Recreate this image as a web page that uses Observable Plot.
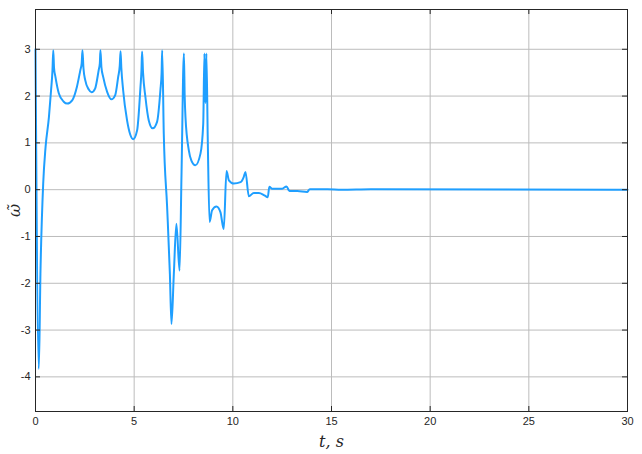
<!DOCTYPE html>
<html><head><meta charset="utf-8">
<script src="https://cdn.jsdelivr.net/npm/d3@7"></script>
<script src="https://cdn.jsdelivr.net/npm/@observablehq/plot@0.6"></script>
<style>
body{margin:0;background:#fff}
g[aria-label="y-axis label"] text, g[aria-label="x-axis label"] text{font-family:"DejaVu Serif",serif;font-style:italic;font-size:16px;fill:#262626}
</style>
</head><body><div id="chart"></div>
<script>
const t = [0,0.17,0.25,0.39,0.51,0.68,0.79,0.86,0.9,0.94,1.01,1.18,1.43,1.61,1.86,2.1,2.27,2.34,2.38,2.43,2.52,2.7,2.84,3.02,3.2,3.26,3.29,3.34,3.43,3.63,3.85,4.04,4.19,4.27,4.31,4.35,4.44,4.64,4.8,4.95,5.15,5.32,5.37,5.4,5.45,5.57,5.74,5.94,6.16,6.33,6.39,6.42,6.5,6.67,6.81,6.89,7.01,7.14,7.3,7.4,7.52,7.56,7.6,7.77,7.9,8.1,8.36,8.5,8.56,8.61,8.66,8.73,8.82,8.95,9.17,9.37,9.54,9.68,9.8,10.05,10.39,10.55,10.64,10.81,11.06,11.32,11.6,11.77,11.85,11.99,12.5,12.72,12.87,13.26,13.76,13.9,14.8,15.5,17,30];
const omega = [3.0,-3.83,-1.8,0.13,0.91,1.55,2.13,2.55,2.98,2.6,2.41,2.06,1.88,1.84,1.91,2.2,2.55,2.7,2.98,2.6,2.34,2.14,2.08,2.16,2.55,2.7,2.98,2.62,2.41,2.09,1.93,2.02,2.41,2.65,2.96,2.6,2.13,1.48,1.18,1.08,1.27,2.2,2.55,2.95,2.5,1.98,1.48,1.31,1.45,2.13,2.5,2.98,1.2,-0.37,-1.8,-2.87,-1.8,-0.73,-1.73,0.34,2.91,2.0,1.55,0.84,0.62,0.52,0.77,1.41,2.91,1.85,2.91,1.06,-0.69,-0.44,-0.36,-0.48,-0.84,0.40,0.2,0.13,0.16,0.27,0.38,-0.14,-0.07,-0.07,-0.12,-0.16,0.06,0.02,0.02,0.07,-0.03,-0.03,-0.05,0.01,0.01,0.0,0.01,0];
const xTicks = [0,5,10,15,20,25,30];
const yTicks = [-4,-3,-2,-1,0,1,2,3];
const data = t.map((d,i)=>({t:d, w:omega[i]}));
const W = 642, H = 454, ml = 35, mr = 15, mt = 9, mb = 43;
const pw = W-ml-mr, ph = H-mt-mb;
const chart = Plot.plot({
  width: W, height: H, marginLeft: ml, marginRight: mr, marginTop: mt, marginBottom: mb,
  x: {domain: [0, 30]},
  y: {domain: [-4.74, 3.85]},
  style: {fontFamily: "'Liberation Sans', Arial, sans-serif", fontSize: "11px", color: "#262626", background: "#fff"},
  marks: [
    Plot.gridX(xTicks, {stroke: "#bcbcbc", strokeOpacity: 1}),
    Plot.gridY(yTicks, {stroke: "#bcbcbc", strokeOpacity: 1}),
    Plot.line(data, {x: "t", y: "w", stroke: "#1f9fff", strokeWidth: 2, curve: "monotone-x"}),
    Plot.frame({stroke: "#262626"}),
    Plot.tickX(xTicks, {x: d => d, insetTop: ph-5, stroke: "#262626"}),
    Plot.tickX(xTicks, {x: d => d, insetBottom: ph-5, stroke: "#262626"}),
    Plot.tickY(yTicks, {y: d => d, insetRight: pw-5, stroke: "#262626"}),
    Plot.tickY(yTicks, {y: d => d, insetLeft: pw-5, stroke: "#262626"}),
    Plot.axisX(xTicks, {tickSize: 0, tickPadding: 6, tickFormat: d => String(d), label: "t, s", labelAnchor: "center", labelOffset: 35, labelArrow: "none"}),
    Plot.axisY(yTicks, {tickSize: 0, tickPadding: 5, tickFormat: d => String(d), label: "ω̃", labelAnchor: "center", labelOffset: 27, labelArrow: "none"})
  ]
});
document.getElementById("chart").appendChild(chart);
</script>
</body></html>
